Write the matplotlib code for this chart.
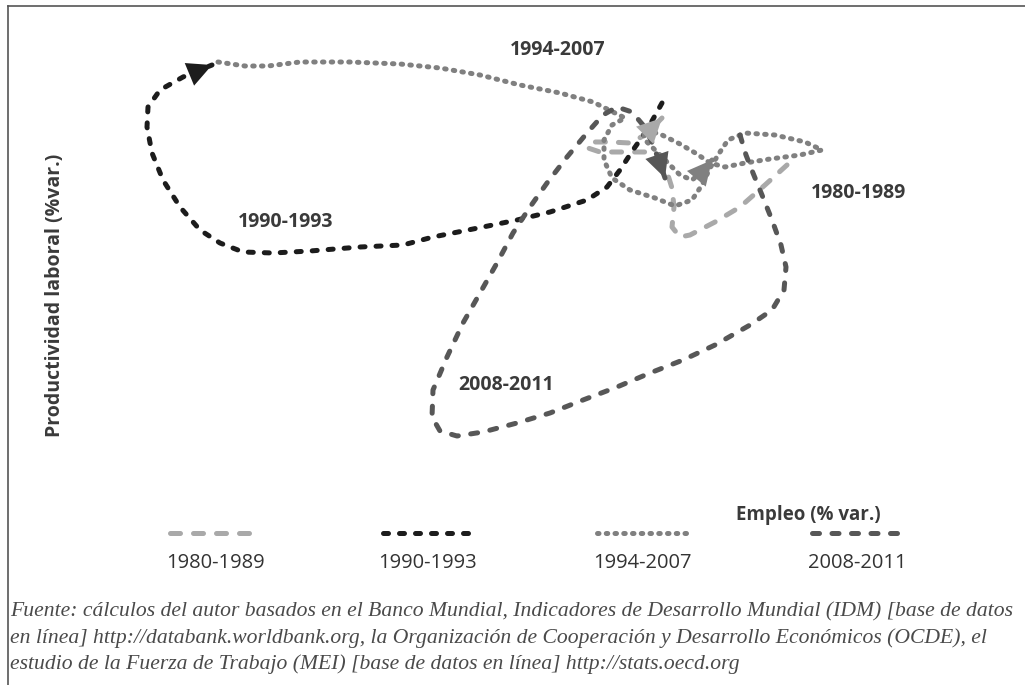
import matplotlib.pyplot as plt

plt.rcParams['font.family'] = ['Open Sans', 'DejaVu Sans']

# Trajectories (chart units: empleo right, productividad up = smaller value)
periodos = ['1980-1989', '1990-1993', '1994-2007', '2008-2011']

empleo_1980 = [787, 765, 740, 715, 690, 680, 672, 674, 672, 667, 658, 645, 625, 600, 588, 590, 610, 630, 645, 662]
prod_1980 = [165, 185, 207, 222, 235, 237, 227, 207, 188, 172, 160, 152, 152, 152, 148, 142, 142, 143, 135, 118]

empleo_1990 = [662, 647, 633, 620, 607, 587, 550, 517, 483, 433, 403, 360, 310, 273, 243, 220, 200, 180, 163, 152, 147, 148, 160, 183, 212]
prod_1990 = [103, 130, 150, 170, 187, 200, 212, 220, 227, 237, 245, 247, 251, 253, 252, 243, 230, 207, 180, 153, 127, 107, 90, 77, 65]

empleo_1994 = [218, 245, 268, 300, 350, 400, 440, 480, 520, 560, 593, 613, 625, 612, 604, 604, 612, 630, 655, 675, 692, 702, 710,
               720, 728, 745, 775, 805, 822, 800, 770, 745, 725, 710, 697, 680, 660, 643, 645, 655, 668, 680, 692, 702, 712]
prod_1994 = [62, 66, 66, 62, 62, 64, 68, 75, 85, 93, 102, 112, 118, 125, 140, 160, 178, 190, 198, 206, 200, 185, 168,
             152, 140, 133, 135, 142, 150, 155, 159, 163, 167, 163, 154, 144, 134, 130, 140, 150, 163, 175, 180, 172, 160]

empleo_2008 = [740, 746, 753, 762, 772, 781, 786, 784, 772, 750, 715, 683, 650, 617, 583, 550, 517, 483, 457, 440, 432, 433,
               447, 463, 480, 497, 513, 530, 547, 567, 587, 603, 617, 632, 643, 651, 658, 665]
prod_2008 = [135, 155, 173, 195, 220, 245, 267, 290, 310, 325, 345, 360, 373, 387, 400, 413, 423, 432, 436, 431, 417, 390,
             357, 323, 293, 263, 233, 207, 183, 157, 133, 115, 107, 112, 125, 140, 158, 178]

colores = ['#a9a9a9', '#1c1c1c', '#808080', '#575757']
trazos = [(2.0, 2.6), (1.0, 2.2), (0.3, 1.45), (1.4, 2.5)]
series = [(empleo_1980, prod_1980), (empleo_1990, prod_1990), (empleo_1994, prod_1994), (empleo_2008, prod_2008)]

# label positions of each period on the chart
etiq_x = [858, 286, 558, 506]
etiq_y = [193, 222, 50, 385]

fig = plt.figure(figsize=(10.25, 6.85), dpi=100)
ax = fig.add_axes([0, 0, 1, 1])
ax.set_xlim(0, 1025)
ax.set_ylim(685, 0)
ax.axis('off')

for (xs, ys), c, d in zip(series, colores, trazos):
    ax.plot(xs, ys, color=c, lw=3.6, dashes=d, dash_capstyle='round', solid_capstyle='round')
    ax.annotate('', xy=(xs[-1], ys[-1]), xytext=(xs[-2], ys[-2]),
                arrowprops=dict(arrowstyle='-|>,head_length=0.8,head_width=0.4', color=c, lw=0,
                                shrinkA=0, shrinkB=0, mutation_scale=22))

for p, x, y in zip(periodos, etiq_x, etiq_y):
    ax.text(x, y, p, fontsize=14, fontweight='bold', color='#3a3a3a', ha='center', va='center')

# frame lines
ax.plot([8, 1025], [6, 6], color='#555555', lw=1.2, clip_on=False)
ax.plot([8, 8], [6, 685], color='#555555', lw=1.2, clip_on=False)

ax.text(55, 295, 'Productividad laboral (%var.)', rotation=90, fontsize=14, fontweight='bold',
        color='#3a3a3a', ha='center', va='center')
ax.text(808, 515, 'Empleo (% var.)', fontsize=13.5, fontweight='bold', color='#3a3a3a', ha='center', va='center')

# legend drawn manually: sample line with label underneath
leg_x = [215, 428, 642, 857]
for p, c, d, x in zip(periodos, colores, trazos, leg_x):
    ax.plot([x - 45, x + 45], [533, 533], color=c, lw=3.6, dashes=d, dash_capstyle='round')
    ax.text(x, 563, p, fontsize=14.5, color='#333333', ha='center', va='center')

fuente = ['Fuente: cálculos del autor basados en el Banco Mundial, Indicadores de Desarrollo Mundial (IDM) [base de datos',
          'en línea] http://databank.worldbank.org, la Organización de Cooperación y Desarrollo Económicos (OCDE), el',
          'estudio de la Fuerza de Trabajo (MEI) [base de datos en línea] http://stats.oecd.org']
for i, linea in enumerate(fuente):
    ax.text(10, 612 + 26 * i, linea, fontsize=15.6, style='italic', family='Liberation Serif',
            color='#4a4a4a', ha='left', va='center')

fig.savefig('out.png', dpi=100)
